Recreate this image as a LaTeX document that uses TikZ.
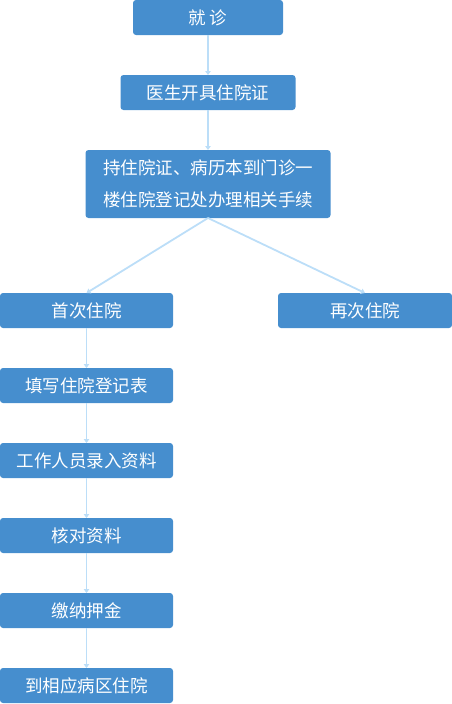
\documentclass[tikz,border=0pt]{standalone}
\usepackage{fontspec}
\newfontfamily\cjk{Noto Sans CJK SC}
\usetikzlibrary{positioning, arrows.meta}
\definecolor{boxblue}{HTML}{468ECE}
\definecolor{linkblue}{HTML}{BCDEF8}
\tikzset{
  stepbox/.style={rectangle, fill=boxblue, draw=none, rounded corners=3pt,
    inner sep=0pt, outer sep=0pt, minimum height=35pt, text=white,
    align=center, font=\cjk\fontsize{17.5}{32}\selectfont},
  arrow/.style={linkblue, line width=1.8pt, -{Triangle[length=4pt, width=5.5pt]}},
}
\begin{document}
\begin{tikzpicture}[node distance=40pt]

  \useasboundingbox (0pt,0pt) rectangle (452pt,-704pt);

  \node[stepbox, minimum width=150pt] (visit) at (208pt,-17.5pt) {就 诊};
  \node[stepbox, minimum width=175pt, below=of visit] (cert) {医生开具住院证};
  \node[stepbox, minimum width=245pt, minimum height=68pt, below=of cert] (hold)
    {持住院证、病历本到门诊一\\楼住院登记处办理相关手续};
  \node[stepbox, minimum width=173pt] (first) at (86.5pt,-310.5pt) {首次住院};
  \node[stepbox, minimum width=174pt] (again) at (365pt,-310.5pt) {再次住院};
  \node[stepbox, minimum width=173pt, below=of first] (form)  {填写住院登记表};
  \node[stepbox, minimum width=173pt, below=of form]  (entry) {工作人员录入资料};
  \node[stepbox, minimum width=173pt, below=of entry] (check) {核对资料};
  \node[stepbox, minimum width=173pt, below=of check] (pay)   {缴纳押金};
  \node[stepbox, minimum width=173pt, below=of pay]   (ward)  {到相应病区住院};

  \draw[arrow] (visit) -- (visit |- cert.north);
  \draw[arrow] (cert)  -- (cert |- hold.north);
  \draw[arrow] (hold.south) -- (first.north);
  \draw[arrow] (hold.south) -- (again.north);
  \draw[arrow] (first) -- (form);
  \draw[arrow] (form)  -- (entry);
  \draw[arrow] (entry) -- (check);
  \draw[arrow] (check) -- (pay);
  \draw[arrow] (pay)   -- (ward);

\end{tikzpicture}
\end{document}
